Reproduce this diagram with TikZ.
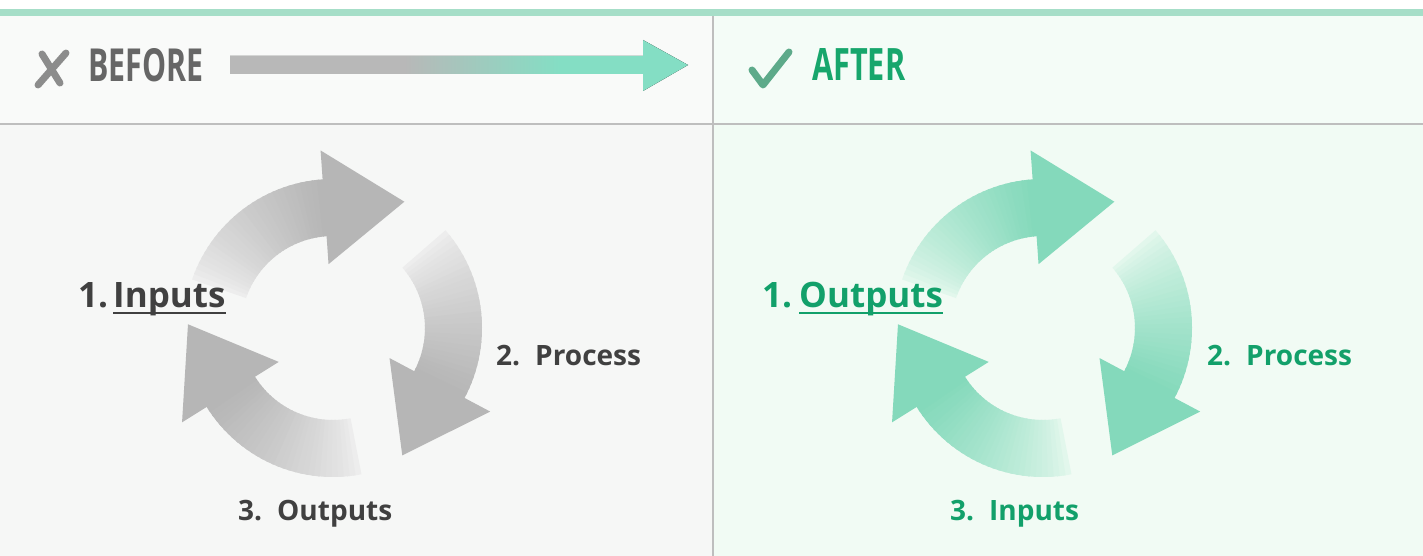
\documentclass[tikz,border=0pt]{standalone}
\usepackage{graphicx}
\usepackage{fontspec}
\setmainfont{Open Sans}
\usetikzlibrary{calc}
\definecolor{bgL}{HTML}{F6F7F6}
\definecolor{bgR}{HTML}{F1FBF4}
\definecolor{hdL}{HTML}{F9FAF9}
\definecolor{hdR}{HTML}{F4FCF7}
\definecolor{topline}{HTML}{A6DEC8}
\definecolor{rulec}{HTML}{BEBEBE}
\definecolor{xgray}{HTML}{8C8C8C}
\definecolor{befgray}{HTML}{666666}
\definecolor{chk}{HTML}{5DAA8A}
\definecolor{aftgreen}{HTML}{17A66C}
\definecolor{arrgray}{HTML}{B8B8B8}
\definecolor{arrteal}{HTML}{84DEC4}
\definecolor{headL}{HTML}{B6B6B6}
\definecolor{arcL}{HTML}{B6B6B6}
\definecolor{tailL}{HTML}{EDEDED}
\definecolor{headR}{HTML}{84D9BB}
\definecolor{arcR}{HTML}{84D9BB}
\definecolor{tailR}{HTML}{E2F7EC}
\definecolor{txtL}{HTML}{404040}
\definecolor{txtR}{HTML}{12A06A}
\pgfdeclarehorizontalshading{hdrarrow}{100bp}{color(0bp)=(arrgray); color(44bp)=(arrgray); color(61bp)=(arrteal); color(100bp)=(arrteal)}
\newcommand{\cyclearrow}[6]{%
  \foreach \k in {0,...,29}{%
    \pgfmathsetmacro\aa{#2+(#3-#2)*\k/30}%
    \pgfmathsetmacro\ab{#2+(#3-#2)*(\k+1.4)/30}%
    \pgfmathtruncatemacro\pp{100*(\k/29)^0.75}%
    \fill[#5!\pp!#4] ($(#1)+(\aa:149pt)$) arc[start angle=\aa, end angle=\ab, radius=149pt]
      -- ($(#1)+(\ab:92pt)$) arc[start angle=\ab, end angle=\aa, radius=92pt] -- cycle;
  }%
  \pgfmathsetmacro\tang{#3-90}%
  \fill[#6] ($(#1)+(#3:64pt)$) -- ($(#1)+(#3:178pt)$) -- ($(#1)+(#3:121pt)+(\tang:80pt)$) -- cycle;
}
\tikzset{
  lbl/.style={inner sep=0pt, anchor=base west, font=\fontsize{28pt}{30pt}\selectfont\bfseries},
  biglbl/.style={inner sep=0pt, anchor=base west, font=\fontsize{35pt}{37pt}\selectfont\bfseries},
  head/.style={inner sep=0pt, anchor=south west},
  uline/.style={line width=1.5pt},
}
\begin{document}
\begin{tikzpicture}[x=1pt,y=1pt]
\useasboundingbox (0,0) rectangle (1423,-556);
% backgrounds
\fill[white] (0,0) rectangle (1423,-556);
\fill[hdL] (0,-16) rectangle (713,-124);
\fill[hdR] (713,-16) rectangle (1423,-124);
\fill[bgL] (0,-124) rectangle (713,-556);
\fill[bgR] (713,-124) rectangle (1423,-556);
\fill[topline] (0,-9) rectangle (1423,-16);
\draw[rulec, line width=2pt] (0,-124) -- (1423,-124);
\draw[rulec, line width=1.5pt] (713,-16) -- (713,-556);
% header left
\draw[xgray, line width=7pt, line cap=round] (42,-54) -- (60,-83);
\draw[xgray, line width=7pt, line cap=round] (66,-53) -- (38,-85);
\node[head, text=befgray] (before) at (88,-82) {\resizebox{115pt}{33pt}{\bfseries BEFORE}};
\fill[shading=hdrarrow] (230,-56) -- (643,-56) -- (643,-40) -- (688,-65) -- (643,-91) -- (643,-74) -- (230,-74) -- cycle;
% header right
\draw[chk, line width=7pt, line cap=round, line join=round] (752,-70) -- (763,-85) -- (789,-52);
\node[head, text=aftgreen] (after) at (812,-81) {\resizebox{93pt}{32pt}{\bfseries AFTER}};
% cycles
\coordinate (cL) at (333,-328);
\coordinate (cR) at (1043,-328);
\cyclearrow{cL}{161}{94}{tailL}{arcL}{headL}
\cyclearrow{cL}{41}{-28}{tailL}{arcL}{headL}
\cyclearrow{cL}{-79}{-148}{tailL}{arcL}{headL}
\cyclearrow{cR}{161}{94}{tailR}{arcR}{headR}
\cyclearrow{cR}{41}{-28}{tailR}{arcR}{headR}
\cyclearrow{cR}{-79}{-148}{tailR}{arcR}{headR}
% left labels
\node[biglbl, text=txtL] (l1n) at (78,-307) {1.};
\node[biglbl, text=txtL] (l1w) at (113,-307) {Inputs};
\draw[uline, txtL] ([yshift=-6pt]l1w.base west) -- ([yshift=-6pt]l1w.base east);
\node[lbl, text=txtL] (l2n) at (496,-365) {2.};
\node[lbl, text=txtL] (l2w) at (535,-365) {Process};
\node[lbl, text=txtL] (l3n) at (238,-520) {3.};
\node[lbl, text=txtL] (l3w) at (277,-520) {Outputs};
% right labels
\node[biglbl, text=txtR] (r1n) at (762,-307) {1.};
\node[biglbl, text=txtR] (r1w) at (799,-307) {Outputs};
\draw[uline, txtR] ([yshift=-6pt]r1w.base west) -- ([yshift=-6pt]r1w.base east);
\node[lbl, text=txtR] (r2n) at (1207,-365) {2.};
\node[lbl, text=txtR] (r2w) at (1246,-365) {Process};
\node[lbl, text=txtR] (r3n) at (950,-520) {3.};
\node[lbl, text=txtR] (r3w) at (989,-520) {Inputs};
\end{tikzpicture}
\end{document}
